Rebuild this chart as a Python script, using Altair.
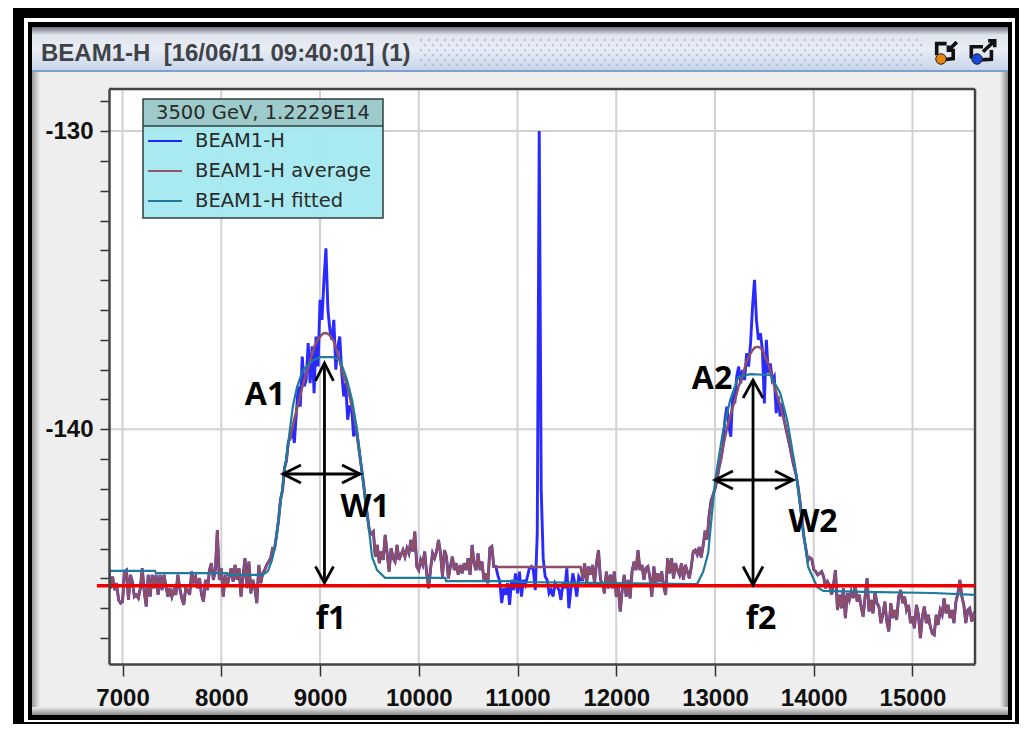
import altair as alt
import pandas as pd

# ---------- values ----------
avg_left = [-144.72,-145.33,-144.94,-145.39,-145.16,-145.72,-145.83,-145.78,-144.77,-144.72,-145.72,-144.88,-145.11,-145.61,-145.55,-145.66,-145.33,-144.66,-145.44,-145.94,-144.88,-145.61,-144.88,-145.33,-144.88,-145.55,-144.88,-145.39,-144.88,-145.27,-145.61,-145.33,-145.61,-145.39,-145.55,-144.88,-145.33,-145.66,-145.89,-145.33,-145.39,-145.55,-144.77,-145.11,-144.94,-145.33,-144.99,-145.55,-145.78,-145.05,-145.39,-144.72,-144.49,-145.05,-144.72,-143.38,-145.05,-144.66,-145.61,-144.88,-145.27,-144.94,-144.66,-145.11,-144.55,-145.05,-144.66,-145.61,-144.94,-144.32,-145.33,-144.44,-145.50,-145.05,-145.33,-145.83,-144.55,-145.16,-144.83,-144.72,-144.55,-144.44,-144.32,-143.99]
avg_peak1 = [-144.0,-143.55,-143.05,-142.35,-142.05,-141.3,-141.05,-140.4,-140.3,-139.95,-139.65,-139.4,-139.15,-138.85,-138.6,-138.35,-138.15,-137.95,-137.7,-137.45,-137.25,-137.1,-136.98,-136.9,-136.82,-136.78,-136.77,-136.8,-136.85,-136.95,-137.05,-137.25,-137.5,-137.7,-138.0,-138.25,-138.4,-138.6,-138.9,-139.2,-139.45,-139.85,-140.3,-140.8,-141.3,-141.8,-142.4,-142.9,-143.4,-143.5]
avg_mid1 = [-143.43,-144.27,-143.88,-144.49,-144.10,-144.38,-143.54,-144.16,-144.77,-143.99,-144.32,-144.44,-143.88,-144.38,-144.21,-144.05,-144.27,-143.99,-144.16,-143.71,-144.10,-143.43,-144.60,-144.72,-144.38,-144.55,-144.10,-144.83,-145.33,-144.66,-144.16,-144.32,-144.10,-143.71,-144.16,-144.94,-144.05,-144.27,-145.0,-144.60,-144.27,-144.72,-144.49,-144.88,-144.55,-144.83,-144.49,-144.72,-144.32,-144.88,-143.88,-144.49,-144.72,-144.16,-144.72,-144.44,-145.05,-144.83,-145.16,-143.99,-143.93,-144.60]
avg_flat = [-144.62, -144.62]
raw_center = [-144.60,-144.88,-145.11,-145.83,-145.33,-145.55,-145.16,-145.89,-145.05,-145.39,-144.83,-145.50,-144.77,-145.61,-145.05,-145.22,-144.94,-144.66,-144.60,-144.72,-145.39,-143.49,-130.0,-142.03,-144.32,-144.94,-145.05,-145.50,-145.39,-145.61,-145.16,-145.27,-145.39,-145.72,-145.16,-145.33,-144.66,-146.0,-145.39,-144.83,-145.16,-145.61,-144.94,-145.05]
avg_mid2 = [-145.05,-144.49,-145.16,-144.60,-144.88,-144.55,-145.16,-144.49,-144.05,-145.05,-145.16,-145.50,-144.77,-145.33,-144.88,-145.33,-144.77,-145.61,-145.27,-146.11,-145.39,-144.88,-145.61,-145.05,-145.67,-144.77,-144.44,-144.72,-144.05,-144.72,-144.55,-145.05,-144.66,-144.60,-144.94,-145.61,-144.60,-145.16,-144.83,-145.11,-144.77,-145.27,-145.55,-144.32,-144.83,-144.32,-145.0,-144.49,-144.72,-144.88,-144.49,-145.05,-144.55,-144.77,-145.0,-144.60,-144.10,-144.05]
avg_peak2 = [-144.2,-143.95,-144.3,-143.9,-143.4,-143.7,-142.9,-142.4,-142.2,-142.0,-141.7,-141.3,-141.0,-140.6,-140.3,-140.0,-139.7,-139.5,-139.25,-139.05,-138.8,-138.55,-138.4,-138.2,-137.95,-137.72,-137.6,-137.45,-137.35,-137.27,-137.24,-137.24,-137.27,-137.35,-137.5,-137.65,-137.8,-138.05,-138.3,-138.55,-138.75,-139.0,-139.2,-139.45,-139.7,-140.0,-140.3,-140.6,-140.95,-141.25,-141.5,-141.9,-142.4,-143.0,-143.6,-144.0,-144.4,-144.3,-144.35,-144.7]
avg_right = [-144.77,-144.88,-144.83,-144.77,-144.94,-145.33,-145.11,-145.22,-145.55,-145.22,-144.72,-146.06,-145.55,-146.0,-145.33,-146.33,-145.50,-145.72,-145.44,-145.66,-145.22,-145.78,-145.55,-145.94,-146.28,-145.61,-144.99,-146.11,-145.72,-146.17,-145.44,-145.83,-145.94,-146.50,-146.22,-145.78,-146.45,-146.78,-145.83,-146.33,-146.06,-146.39,-145.61,-145.39,-145.83,-145.61,-146.06,-145.89,-146.50,-146.28,-146.67,-145.89,-146.22,-147.0,-146.28,-145.94,-146.50,-146.22,-146.61,-146.84,-146.89,-146.22,-146.56,-146.06,-146.22,-145.66,-146.17,-145.89,-146.33,-146.06,-146.50,-145.78,-145.50,-145.05,-145.61,-145.89,-146.50,-146.06,-146.0,-146.45,-146.2,-146.3]
raw_peak1 = [-140.46,-139.46,-138.56,-139.24,-137.56,-138.56,-138.34,-137.11,-138.45,-137.22,-138.79,-136.89,-137.89,-135.66,-136.33,-134.99,-133.93,-135.99,-136.67,-137.0,-136.33,-138.0,-137.22,-136.89,-138.12,-138.9,-138.45,-139.68,-139.24,-139.24,-140.24]
raw_peak2 = [-139.69,-139.24,-139.91,-140.25,-138.79,-139.13,-138.23,-137.9,-138.46,-138.01,-138.35,-137.45,-137.9,-137.12,-135.89,-134.99,-136.34,-137.0,-136.78,-137.34,-139.13,-137.0,-138.12,-137.79,-138.35,-138.23,-139.46,-138.9,-139.57,-139.13]

fit_x = [6863,7329,7339,8058,8068,8423,8474,8514,8544,8585,8636,8696,8727,8767,8828,8929,9000,9132,9203,9274,9325,9375,9426,9477,9527,9578,9659,10267,10277,10996,11006,11735,12819,12880,12931,13002,13083,13154,13235,13356,13559,13660,13731,13812,13883,13944,14035,14096,14501,15210,15633]
fit_y = [-144.75,-144.75,-144.82,-144.82,-144.88,-144.88,-144.75,-144.38,-143.95,-142.87,-141.53,-139.99,-139.19,-138.58,-138.01,-137.68,-137.58,-137.58,-137.68,-138.35,-139.02,-140.02,-141.46,-142.81,-144.28,-144.72,-144.98,-144.98,-145.09,-145.09,-145.12,-145.15,-145.19,-144.78,-144.15,-141.70,-140.02,-139.02,-138.25,-138.15,-138.18,-138.78,-139.69,-141.26,-143.14,-144.62,-145.29,-145.42,-145.45,-145.49,-145.55]

x_ticks = [7000,8000,9000,10000,11000,12000,13000,14000,15000]
y_ticks = list(range(-147,-128))
y_grid = [-130,-140]
baseline_x = [6740,15633]
baseline_y = [-145.25,-145.25]

arrow_paths = {
 "f1": ([9045,9045],[-137.78,-145.15]),
 "f1a": ([8954,9045,9136],[-138.38,-137.78,-138.38]),
 "f1b": ([8954,9045,9136],[-144.6,-145.15,-144.6]),
 "w1": ([8625,9405],[-141.5,-141.5]),
 "w1a": ([8807,8625,8807],[-141.2,-141.5,-141.8]),
 "w1b": ([9223,9405,9223],[-141.2,-141.5,-141.8]),
 "f2": ([13385,13385],[-138.35,-145.22]),
 "f2a": ([13284,13385,13486],[-138.95,-138.35,-138.95]),
 "f2b": ([13284,13385,13486],[-144.6,-145.22,-144.6]),
 "w2": ([13000,13790],[-141.7,-141.7]),
 "w2a": ([13182,13000,13182],[-141.4,-141.7,-142.0]),
 "w2b": ([13608,13790,13608],[-141.4,-141.7,-142.0]),
}
labels = [("A1",265,395),("W1",365,507),("f1",331,619),("A2",712,379),("W2",813,522),("f2",761,619)]
legend_rows = [("BEAM1-H","#1f22ff",141),("BEAM1-H average","#93566a",171),("BEAM1-H fitted","#1f7a9c",201)]

title_text = "BEAM1-H\u00a0 [16/06/11 09:40:01] (1)"
legend_title = "3500 GeV, 1.2229E14"

# ---------- assemble series ----------
def seg(start, vals):
    return {start + 20*i: v for i, v in enumerate(vals)}

avg = {}
for s, v in [(6860,avg_left),(8540,avg_peak1),(9540,avg_mid1),(11660,avg_mid2),(12820,avg_peak2),(14020,avg_right)]:
    avg.update(seg(s, v))
raw = dict(avg)
avg[10780] = avg_flat[0]; avg[11640] = avg_flat[1]
raw.update(seg(10780, raw_center))
raw.update(seg(8740, raw_peak1))
raw.update(seg(13100, raw_peak2))

df_avg = pd.DataFrame(sorted(avg.items()), columns=["x","y"])
df_raw = pd.DataFrame(sorted(raw.items()), columns=["x","y"])
df_fit = pd.DataFrame({"x":fit_x,"y":fit_y})
df_base = pd.DataFrame({"x":baseline_x,"y":baseline_y})
df_arrows = pd.DataFrame([{"k":k,"o":i,"x":a,"y":b} for k,(xs_,ys_) in arrow_paths.items() for i,(a,b) in enumerate(zip(xs_,ys_))])

# ---------- geometry ----------
PL, PT, W, H = 109, 89, 866, 575
def px(v): return alt.value(v-PL)
def py(v): return alt.value(v-PT)
xs = alt.Scale(domain=[6863,15633], nice=False, zero=False)
ys = alt.Scale(domain=[-147.87,-128.59], nice=False, zero=False)
x_axis = alt.Axis(values=x_ticks,grid=False,format="d",zindex=1,title=None,
    domainColor="#444444",domainWidth=2.5,tickColor="#333333",tickWidth=1.5,tickSize=12,labelPadding=10,
    labelFont="Liberation Sans",labelFontWeight="bold",labelFontSize=24,labelColor="#111111",labelOverlap=False)
y_axis = alt.Axis(values=y_ticks,grid=False,zindex=1,title=None,
    labelExpr="datum.value==-130||datum.value==-140?''+datum.value:''",
    domainColor="#444444",domainWidth=2.5,tickColor="#333333",tickWidth=1.5,tickSize=9,labelPadding=7,
    labelFont="Liberation Sans",labelFontWeight="bold",labelFontSize=24,labelColor="#111111",labelOverlap=False)
X = alt.X("x:Q", scale=xs, axis=x_axis)
Y = alt.Y("y:Q", scale=ys, axis=y_axis)
one = pd.DataFrame({"a":[0]})

def rect(x0,x1,y0,y1,color,**kw):
    return alt.Chart(one).mark_rect(color=color,**kw).encode(x=px(x0),x2=px(x1),y=py(y0),y2=py(y1))
def grad(stops,vertical=True):
    return {"gradient":"linear","x1":0,"y1":0,"x2":0 if vertical else 1,"y2":1 if vertical else 0,
            "stops":[{"offset":o,"color":c} for o,c in stops]}
def text(t,x,y,**kw):
    return alt.Chart(one).mark_text(text=t,**kw).encode(x=px(x),y=py(y))

layers = [
    rect(13,1019,8,724,"#000000"),
    rect(24,1015,18,722,"#ffffff"),
    rect(28,1012,22,720,"#000000"),
    rect(32,1008,27,715,"#eeeeee"),
    rect(32,40,27,715,grad([(0,"#9a9a9a"),(1,"#eeeeee")],False)),
    rect(1000,1008,27,715,grad([(0,"#eeeeee"),(1,"#8a8a8a")],False)),
    rect(32,1008,707,715,grad([(0,"#eeeeee"),(1,"#8a8a8a")])),
    rect(32,1008,27,71,grad([(0,"#6f7378"),(0.18,"#dfe4ee"),(0.5,"#e9edf5"),(1,"#c6d5ea")])),
    rect(32,1008,70,72,"#7f9fcf"),
    rect(PL,PL+W,PT,PT+H,"#ffffff"),
]

# title-bar dot texture
dot_cols = list(range(421,921,8))
dot_rows = [40,45,50,55,60,65]
dots = pd.DataFrame([{"x":7000+(c+(4 if j%2 else 0)-122.5)/0.09875,"y":-130-(r-131)/29.83}
                     for j,r in enumerate(dot_rows) for c in dot_cols])
layers.append(alt.Chart(dots).mark_square(size=5,color="#b3c5de",opacity=1).encode(x=X,y=Y))

# icons
icon1 = "M-.31,.11L-.31,-.28L.02,-.28M.24,-.11L.24,.22L-.09,.26M.36,-.33L.08,-.06M.08,-.22L.08,-.06L.24,-.06"
icon2 = "M-.39,.28L-.39,-.11L0,-.11M.28,0L.28,.31L-.11,.33M0,.06L.39,-.31M.17,-.31L.39,-.31L.39,-.09"
layers += [
    alt.Chart(one).mark_point(shape=icon1,size=3600,filled=False,stroke="#111111",strokeWidth=3.6,opacity=1).encode(x=px(946),y=py(52)),
    alt.Chart(one).mark_point(shape=icon2,size=3600,filled=False,stroke="#111111",strokeWidth=3.6,opacity=1).encode(x=px(983),y=py(50)),
    alt.Chart(one).mark_circle(size=110,color="#e8860c",opacity=1,stroke="#222222",strokeWidth=1).encode(x=px(941),y=py(59)),
    alt.Chart(one).mark_circle(size=110,color="#1a4be0",opacity=1,stroke="#222222",strokeWidth=1).encode(x=px(977),y=py(59)),
    text(title_text,41,61,align="left",baseline="alphabetic",font="Liberation Sans",fontWeight="bold",fontSize=24,color="#3f4347"),
]

# grid
layers += [
    alt.Chart(pd.DataFrame({"x":x_ticks})).mark_rule(color="#d2d2d2",strokeWidth=2).encode(x=X),
    alt.Chart(pd.DataFrame({"y":y_grid})).mark_rule(color="#d2d2d2",strokeWidth=2).encode(y=Y),
]

# legend
layers += [
    rect(143,383,99,218,"#a0e8ee",opacity=0.9),
    rect(143,383,99,126,"#9cc8c8",opacity=0.95),
    rect(143,383,99,218,"#ffffff",opacity=1,fillOpacity=0,stroke="#2f3f3f",strokeWidth=1.5),
    alt.Chart(one).mark_rule(color="#2f3f3f",strokeWidth=1.5).encode(x=px(143),x2=px(383),y=py(126)),
    text(legend_title,263,119,align="center",baseline="alphabetic",font="DejaVu Sans",fontSize=19.5,color="#2a2a2a"),
]
for name,c,yy in legend_rows:
    layers.append(alt.Chart(one).mark_rule(color=c,strokeWidth=2).encode(x=px(148),x2=px(182),y=py(yy)))
    layers.append(text(name,195,yy,align="left",baseline="middle",font="DejaVu Sans",fontSize=19.5,color="#2a2a2a"))

# plot frame (top and right edges)
layers += [
    alt.Chart(one).mark_rule(color="#444444",strokeWidth=2.5).encode(x=px(PL),x2=px(PL+W),y=py(PT)),
    alt.Chart(one).mark_rule(color="#444444",strokeWidth=2.5).encode(x=px(PL+W),y=py(PT),y2=py(PT+H)),
]

# data
layers += [
    alt.Chart(df_raw).mark_line(color="#2a2aff",strokeWidth=2.9,clip=True).encode(x=X,y=Y,order="x:Q"),
    alt.Chart(df_avg).mark_line(color="#8d4f66",strokeWidth=2.5,clip=True).encode(x=X,y=Y,order="x:Q"),
    alt.Chart(df_fit).mark_line(color="#1f7a9c",strokeWidth=2.2,clip=True).encode(x=X,y=Y,order="x:Q"),
    alt.Chart(df_base).mark_line(color="#ee0000",strokeWidth=3.5).encode(x=X,y=Y),
    alt.Chart(df_arrows).mark_line(color="#000000",strokeWidth=2.8).encode(x=X,y=Y,detail="k:N",order="o:Q"),
]
for t,x,y in labels:
    layers.append(text(t,x,y,align="center",baseline="middle",font="Open Sans",fontWeight="bold",fontSize=32,color="#000000"))

chart = alt.layer(*layers).properties(
    width=W,height=H,
    padding={"left":PL-8,"top":PT-8,"right":1011-(PL-8)-W,"bottom":716-(PT-8)-H},
    autosize=alt.AutoSizeParams(type="none",contains="content"),
    background="#ffffff",
).configure_view(stroke=None)
chart.save("out.html", embed_options={"renderer":"svg","actions":False})
